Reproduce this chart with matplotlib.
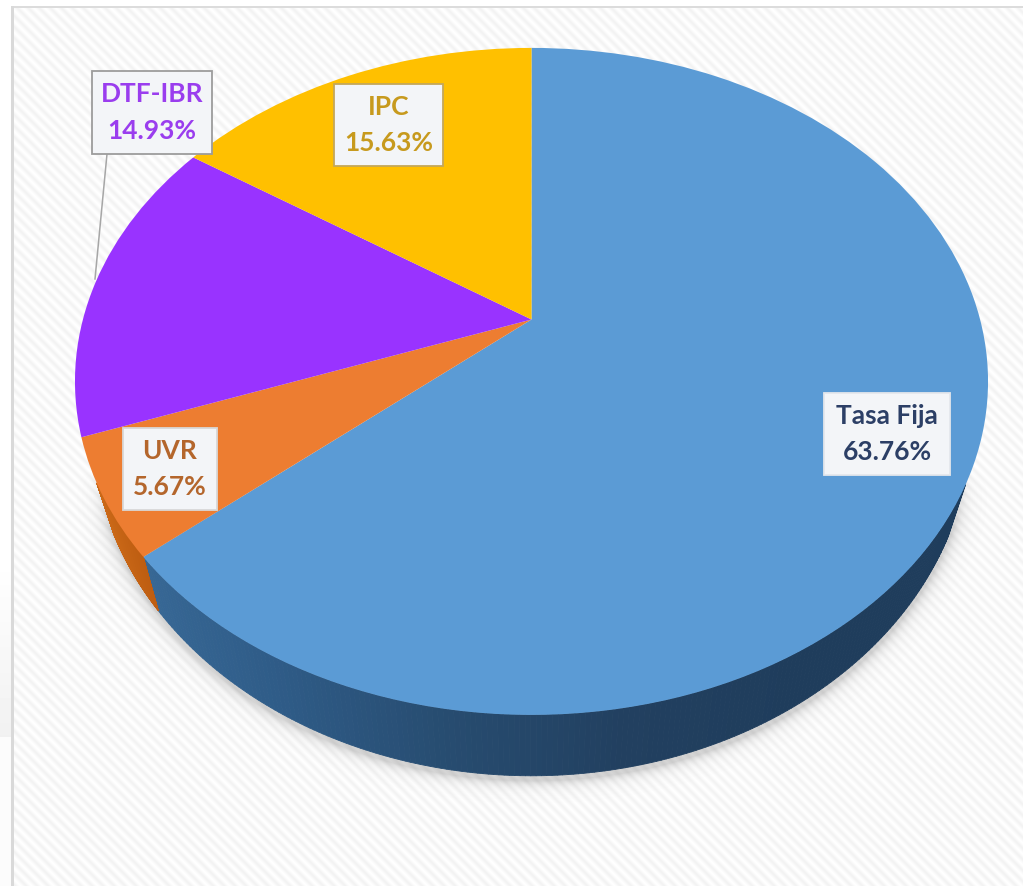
import numpy as np
import matplotlib
matplotlib.use("Agg")
import matplotlib.pyplot as plt
from matplotlib.collections import PolyCollection
from matplotlib.colors import LinearSegmentedColormap
from matplotlib.patches import Rectangle
from matplotlib.transforms import Transform

# ---- data ----
categories = ["Tasa Fija", "UVR", "DTF-IBR", "IPC"]
shares = [63.76, 5.67, 14.93, 15.63]
slice_colors = ["#5B9BD5", "#ED7D31", "#9933FF", "#FFC000"]
label_colors = ["#2C3F66", "#B4662C", "#9A3DEE", "#C79A1E"]

W, H = 1023, 887
APEX = (531.5, 320.5)
PA, PB, PK = 448.6, 322.0, 0.1856     # perspective of the pie's disc
SX, SY, DROP = 0.961, 1.044, 43.5     # lower rim relative to the upper rim


class Perspective(Transform):
    """Tilts the unit pie into picture coordinates."""
    input_dims = output_dims = 2
    is_affine = False
    has_inverse = False

    def transform_non_affine(self, values):
        v = np.asarray(values, float)
        w = 1 + PK * v[:, 1]
        return np.column_stack((APEX[0] + PA * v[:, 0] / w,
                                APEX[1] - PB * v[:, 1] / w))


persp = Perspective()

fig = plt.figure(figsize=(W / 100, H / 100), dpi=100)
ax = fig.add_axes([0, 0, 1, 1])

# ---- backdrop: diagonal weave, frame ----
yy, xx = np.mgrid[0:H, 0:W]
bg = 0.975 + 0.022 * np.sin(2 * np.pi * (xx - yy) / 11.0)
strip = np.ones(H)
strip[560:738] = np.linspace(1.0, 0.945, 178)
strip[738:] = 0.985
bg[:, :11] = strip[:, None]
bg[:7, :] = 1.0
bg[7:9, 11:] = 0.86
bg[7:, 11:14] = 0.85
ax.imshow(bg, cmap="gray", vmin=0, vmax=1, extent=(0, W, H, 0),
          interpolation="bilinear", zorder=0)

# ---- soft shadow round the lower rim ----
ecx, ecy = APEX[0], APEX[1] + 62 * SY + DROP
ea, eb = 456.5 * SX, 334 * SY
r = np.hypot((xx - ecx) / ea, (yy - 4 - ecy) / eb)
dist = (r - 1) * 400
sh = np.clip(0.30 * np.exp(-np.clip(dist, 0, None) / 6.0), 0, 0.30)
sh *= np.clip((yy - 470) / 60.0, 0, 1)
sh[:, :14] = 0
rgba = np.zeros((H, W, 4))
rgba[..., :3] = 0.45
rgba[..., 3] = sh
ax.imshow(rgba, extent=(0, W, H, 0), interpolation="bilinear", zorder=1)


# ---- side wall ----
def rim(deg):
    """Upper rim point at a clockwise angle from twelve o'clock."""
    t = np.radians(deg)
    return persp.transform(np.column_stack((np.sin(t), np.cos(t))))


def lower(p):
    return np.column_stack((APEX[0] + SX * (p[:, 0] - APEX[0]),
                            APEX[1] + SY * (p[:, 1] - APEX[1]) + DROP))


blue_wall = LinearSegmentedColormap.from_list(
    "blue_wall", ["#3A6C9A", "#2F5C88", "#274C70", "#224060", "#1F3D5C", "#1F3D5C"])
orange_wall = LinearSegmentedColormap.from_list(
    "orange_wall", ["#CC6A18", "#B9590F"])

edges = np.cumsum([0] + shares) / sum(shares) * 360
for i, cmap in ((0, blue_wall), (1, orange_wall)):
    angles = np.linspace(edges[i], edges[i + 1], 400)
    top = rim(angles)
    keep = top[:, 1] > 484            # above this the wall is hidden by the disc
    angles, top = angles[keep], top[keep]
    bot = lower(top)
    quads = [np.vstack((top[j], top[j + 1], bot[j + 1], bot[j]))
             for j in range(len(angles) - 1)]
    mid = 0.5 * (top[:-1, 0] + top[1:, 0])
    span = (mid - 90) / (980 - 90) if i == 0 else (mid - 90) / 70
    cols = cmap(np.clip(span, 0, 1))
    ax.add_collection(PolyCollection(quads, facecolors=cols, edgecolors=cols,
                                     linewidths=0.6, zorder=2))

# ---- top face ----
wedges, _ = ax.pie(shares, colors=slice_colors, startangle=90, counterclock=False)
for w in wedges:
    w.set_transform(persp + ax.transData)
    w.set_zorder(3)
    w.set_linewidth(0)

ax.set_aspect("auto")
ax.set_xlim(0, W)
ax.set_ylim(H, 0)
ax.axis("off")

# ---- labels ----
boxes = {
    "Tasa Fija": (824, 394, 126, 82, "#E4E7EC"),
    "UVR": (123, 429, 94, 82, "#D8D8D8"),
    "DTF-IBR": (92, 72, 120, 83, "#9C9C9C"),
    "IPC": (334, 85, 109, 82, "#C4A75A"),
}
ax.plot([107, 95], [155, 280], color="#A6A6A6", lw=1.1, zorder=3.5)
for name, share, tc in zip(categories, shares, label_colors):
    x, y, bw, bh, ec = boxes[name]
    ax.add_patch(Rectangle((x, y), bw, bh, facecolor="#F3F5F8", edgecolor=ec,
                           lw=1.3, zorder=4))
    ax.text(x + bw / 2, y + bh / 2 - 1, f"{name}\n{share:.2f}%", color=tc,
            family="Lato", weight="bold", fontsize=19, ha="center", va="center",
            linespacing=1.62, zorder=5)

fig.savefig("out.png", dpi=100)
